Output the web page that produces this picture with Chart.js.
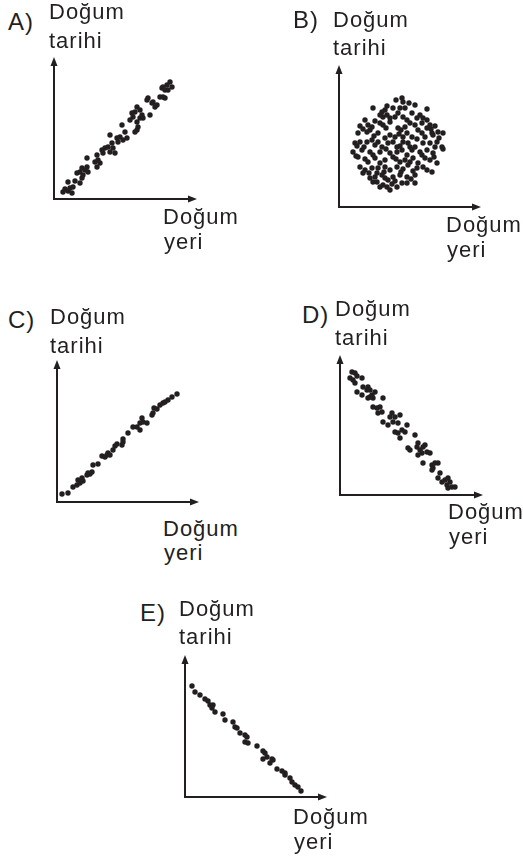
<!DOCTYPE html>
<html>
<head>
<meta charset="utf-8">
<script src="https://cdn.jsdelivr.net/npm/chart.js@4.4.1/dist/chart.umd.min.js"></script>
<style>
body{margin:0;background:#fff;width:523px;height:860px;position:relative;overflow:hidden;font-family:"Liberation Sans",Arial,sans-serif;color:#231f20}
canvas{position:absolute}
.lbl{position:absolute;font-size:22px;line-height:22px;letter-spacing:1px;white-space:nowrap}
.tag{font-size:24px;line-height:24px;letter-spacing:1px}
</style>
</head>
<body>
<script>
// eksen isimleri
const yAxisName = ['Doğum', 'tarihi'];
const xAxisName = ['Doğum', 'yeri'];

// noktalar [doğum yeri, doğum tarihi]
const pointsA = [[9,7],[11,10],[14,8],[18,6],[16,11],[19,12],[14,17],[21,18],[26,16],[28,21],[29,24],[26,27],
  [23,26],[31,29],[33,32],[34,27],[33,41],[28,31],[43,32],[41,37],[44,39],[46,36],[43,44],[49,46],[48,49],
  [51,51],[54,52],[56,47],[59,51],[58,56],[61,46],[56,64],[63,61],[64,57],[66,62],[68,74],[69,59],[73,61],
  [71,67],[76,79],[78,86],[81,87],[83,92],[79,82],[83,77],[86,81],[88,84],[89,81],[83,69],[81,67],[84,72],
  [86,89],[93,99],[94,101],[96,84],[98,96],[99,97],[101,92],[103,94],[106,102],[108,111],[109,112],[111,109],
  [113,114],[114,109],[116,117],[118,112],[111,101],[109,102]];

const pointsB = [[57,107],[63,109],[64,105],[34,99],[48,101],[54,99],[61,99],[66,99],[76,102],[88,98],[46,97],
  [26,87],[41,92],[44,90],[51,89],[64,90],[73,94],[78,89],[84,89],[88,87],[48,92],[56,90],
  [21,81],[29,82],[33,80],[41,84],[44,82],[51,85],[59,79],[66,80],[71,84],[76,82],[83,84],[91,82],[96,81],
  [88,79],[31,77],[79,77],
  [19,74],[28,75],[39,74],[51,72],[56,70],[68,74],[73,70],[83,74],[86,70],[93,74],[99,75],[104,74],[94,72],[64,70],
  [16,64],[21,65],[28,65],[33,67],[39,65],[43,60],[49,64],[54,65],[58,60],[64,65],[69,64],[76,60],[84,64],
  [91,64],[98,65],[103,60],[18,61],[36,62],
  [14,55],[23,57],[31,55],[41,55],[51,54],[58,55],[63,57],[68,52],[73,57],[81,55],[83,52],[88,57],[94,54],
  [104,58],[34,52],
  [19,50],[26,48],[36,49],[46,47],[54,50],[61,45],[66,47],[74,49],[79,44],[86,49],[91,47],[98,44],[41,44],
  [21,40],[26,37],[33,39],[39,39],[46,40],[51,37],[58,40],[64,38],[69,42],[78,39],[84,40],[88,37],[93,35],
  [24,34],[38,34],
  [31,29],[36,30],[43,32],[49,27],[54,30],[61,32],[68,30],[76,32],[38,25],[46,29],
  [34,25],[44,22],[51,17],[58,20],[63,24],[68,24],[76,24],[53,23],[41,20],
  [70,104],[43,95],[59,94],[68,87],[36,86],[81,92],[24,78],[47,79],[62,77],[92,78],[35,71],[46,69],[60,73],
  [78,68],[100,69],[25,60],[47,58],[61,61],[71,60],[96,60],[17,51],[29,45],[57,48],[71,45],[95,50],
  [30,34],[45,35],[62,35],[74,36],[56,26],[72,28],[48,20]];

const pointsC = [[5,8],[11,9],[16,15],[20,17],[23,19],[21,22],[25,24],[26,21],[30,27],[31,29],[33,28],[35,30],
  [36,37],[41,38],[45,46],[48,45],[50,47],[51,49],[53,47],[56,52],[58,56],[60,58],[65,57],[66,60],[66,63],
  [71,69],[76,75],[80,75],[83,72],[83,79],[85,84],[86,80],[90,79],[95,87],[96,89],[97,94],[100,93],[103,97],
  [106,99],[108,100],[111,102],[115,105],[120,108]];

const pointsD = [[12,123],[15,122],[10,117],[13,115],[17,119],[15,112],[22,117],[23,108],[17,103],[22,100],
  [27,105],[28,108],[30,105],[32,100],[33,97],[30,98],[35,103],[28,97],[43,97],[33,88],[37,87],[40,88],
  [38,82],[42,83],[43,73],[48,70],[50,78],[52,82],[53,73],[55,78],[58,72],[60,80],[55,63],[58,62],[60,57],
  [62,65],[65,63],[67,70],[68,47],[70,45],[75,60],[77,48],[78,52],[80,45],[78,40],[82,42],[83,48],[85,50],
  [87,43],[90,42],[83,32],[92,30],[95,32],[98,32],[93,27],[92,25],[100,22],[98,17],[102,13],[105,15],
  [108,17],[110,13],[107,10],[112,8],[108,7],[115,8]];

const pointsE = [[7,111],[10,105],[15,102],[20,98],[23,96],[25,92],[27,89],[28,92],[30,85],[38,83],[40,77],
  [48,75],[50,70],[52,69],[55,64],[60,62],[62,60],[60,55],[63,54],[72,51],[78,46],[80,44],[82,40],[78,38],
  [85,34],[87,38],[88,37],[92,28],[97,26],[100,24],[100,22],[105,19],[107,15],[110,12],[113,10],[116,6]];

const ink = '#231f20';

// her panel: eksen baslangici (ox, oy), eksen uzunluklari, yazilar (sol, taban cizgisi)
const panels = [
  {tag: 'A)', pts: pointsA, ox: 54, oy: 199, w: 143, h: 142,
   tagPos: [8, 30], top: [49, 20, 49], bottom: [163, 225, 250]},
  {tag: 'B)', pts: pointsB, ox: 339, oy: 207, w: 142, h: 142,
   tagPos: [293, 28], top: [333, 28, 56], bottom: [446, 233, 258]},
  {tag: 'C)', pts: pointsC, ox: 57, oy: 502, w: 142, h: 142,
   tagPos: [8, 328], top: [50, 325, 354], bottom: [163, 537, 561]},
  {tag: 'D)', pts: pointsD, ox: 340, oy: 495, w: 143, h: 140,
   tagPos: [302, 323], top: [335, 317, 346], bottom: [448, 520, 545]},
  {tag: 'E)', pts: pointsE, ox: 185, oy: 797, w: 142, h: 142,
   tagPos: [140, 621], top: [179, 617, 645], bottom: [293, 825, 850]}
];

function addText(txt, left, base, cls, size){
  const d = document.createElement('div');
  d.className = cls;
  d.textContent = txt;
  d.style.left = left + 'px';
  d.style.top = (base - 0.8465 * size) + 'px';
  document.body.appendChild(d);
}

// eksenler ve ok uclari
const axesArrows = {
  id: 'axesArrows',
  beforeDatasetsDraw(chart){
    const {ctx, scales: {x, y}} = chart;
    const x0 = x.getPixelForValue(0), y0 = y.getPixelForValue(0);
    const x1 = x.getPixelForValue(x.max), y1 = y.getPixelForValue(y.max);
    ctx.save();
    ctx.strokeStyle = ink;
    ctx.fillStyle = ink;
    ctx.lineWidth = 2;
    ctx.beginPath();
    ctx.moveTo(x0, y1 + 6);
    ctx.lineTo(x0, y0);
    ctx.lineTo(x1 - 6, y0);
    ctx.stroke();
    ctx.beginPath();
    ctx.moveTo(x0, y1);
    ctx.lineTo(x0 - 3.5, y1 + 9);
    ctx.lineTo(x0 + 3.5, y1 + 9);
    ctx.closePath();
    ctx.fill();
    ctx.beginPath();
    ctx.moveTo(x1, y0);
    ctx.lineTo(x1 - 9, y0 - 3.5);
    ctx.lineTo(x1 - 9, y0 + 3.5);
    ctx.closePath();
    ctx.fill();
    ctx.restore();
  }
};

const pad = 10;
panels.forEach(p => {
  const cv = document.createElement('canvas');
  cv.width = p.w + pad * 2;
  cv.height = p.h + pad * 2;
  cv.style.left = (p.ox - pad) + 'px';
  cv.style.top = (p.oy - p.h - pad) + 'px';
  document.body.appendChild(cv);

  new Chart(cv, {
    type: 'scatter',
    data: {
      datasets: [{
        data: p.pts.map(([x, y]) => ({x, y})),
        pointRadius: 2.7,
        pointBackgroundColor: ink,
        pointBorderWidth: 0,
        clip: false
      }]
    },
    options: {
      responsive: false,
      animation: false,
      layout: {padding: pad},
      plugins: {legend: {display: false}, tooltip: {enabled: false}},
      scales: {
        x: {type: 'linear', display: false, min: 0, max: p.w},
        y: {type: 'linear', display: false, min: 0, max: p.h}
      }
    },
    plugins: [axesArrows]
  });

  addText(p.tag, p.tagPos[0], p.tagPos[1], 'lbl tag', 24);
  addText(yAxisName[0], p.top[0], p.top[1], 'lbl', 22);
  addText(yAxisName[1], p.top[0], p.top[2], 'lbl', 22);
  addText(xAxisName[0], p.bottom[0], p.bottom[1], 'lbl', 22);
  addText(xAxisName[1], p.bottom[0] + 1, p.bottom[2], 'lbl', 22);
});
</script>
</body>
</html>
